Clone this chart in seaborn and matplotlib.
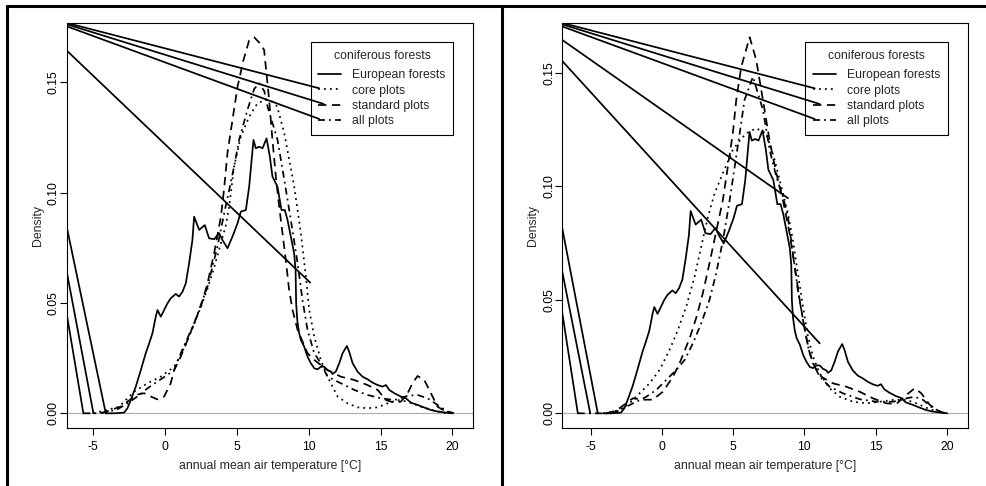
import matplotlib
matplotlib.use("Agg")
import matplotlib.pyplot as plt
from matplotlib.lines import Line2D
import seaborn as sns

# ---------------------------------------------------------------------------
# Density of annual mean air temperature (°C)
# ---------------------------------------------------------------------------
series_labels = ["European forests", "core plots", "standard plots", "all plots"]
legend_title = "coniferous forests"
x_label = "annual mean air temperature [°C]"
y_label = "Density"
x_ticks = [-5, 0, 5, 10, 15, 20]
y_ticks = [0.00, 0.05, 0.10, 0.15]
y_tick_labels = ["0.00", "0.05", "0.10", "0.15"]

# European forests (same reference curve in both panels)
europe_temp = [-4.13, -3.55, -2.86, -2.62, -2.39, -2.04, -1.69, -1.35, -1.11, -0.88,
               -0.65, -0.53, -0.30, -0.07, 0.16, 0.39, 0.74, 0.97, 1.21, 1.44,
               1.67, 1.90, 2.02, 2.37, 2.76, 3.06, 3.41, 3.76, 3.99, 4.34,
               4.69, 5.04, 5.27, 5.62, 5.85, 6.15, 6.31, 6.55, 6.78, 7.06,
               7.29, 7.47, 7.82, 8.10, 8.33, 8.52, 8.75, 8.98, 9.08, 9.12,
               9.20, 9.33, 9.45, 9.68, 9.91, 10.14, 10.38, 10.61, 10.84, 11.07,
               11.30, 11.54, 11.65, 11.88, 12.12, 12.35, 12.65, 12.81, 13.05, 13.39,
               13.74, 14.09, 14.44, 14.79, 15.13, 15.37, 15.60, 15.95, 16.41, 16.76,
               17.11, 17.57, 18.04, 18.50, 18.96, 19.54, 20.01]
europe_density = [0.0, 0.0, 0.0003, 0.0023, 0.0060, 0.0121, 0.0196, 0.0272, 0.0317, 0.0363,
                  0.0438, 0.0468, 0.0438, 0.0468, 0.0498, 0.0521, 0.0541, 0.0529, 0.0551, 0.0589,
                  0.0680, 0.0785, 0.0891, 0.0831, 0.0853, 0.0793, 0.0789, 0.0816, 0.0785, 0.0748,
                  0.0801, 0.0861, 0.0914, 0.0921, 0.1027, 0.1239, 0.1201, 0.1208, 0.1201, 0.1246,
                  0.1163, 0.1073, 0.1027, 0.0921, 0.0921, 0.0876, 0.0801, 0.0725, 0.0650, 0.0498,
                  0.0420, 0.0363, 0.0332, 0.0302, 0.0257, 0.0227, 0.0204, 0.0199, 0.0211, 0.0211,
                  0.0196, 0.0189, 0.0178, 0.0189, 0.0227, 0.0272, 0.0305, 0.0279, 0.0227, 0.0189,
                  0.0166, 0.0154, 0.0139, 0.0128, 0.0121, 0.0128, 0.0106, 0.0091, 0.0076, 0.0068,
                  0.0048, 0.0038, 0.0026, 0.0015, 0.0008, 0.0003, 0.0]

# Left panel
left_core_temp = [-4.99, -4.25, -3.20, -2.16, -1.23, -0.30, 0.63, 1.09, 1.56, 2.02,
                  2.48, 2.95, 3.41, 3.88, 4.22, 4.46, 4.80, 5.27, 5.85, 6.43,
                  7.00, 7.40, 7.80, 8.29, 8.98, 9.45, 9.80, 10.03, 10.38, 10.84,
                  11.30, 12.00, 12.70, 13.39, 14.09, 14.79, 15.48, 16.18, 16.88, 17.80,
                  18.73, 19.66]
left_core_density = [0.0, 0.0012, 0.0030, 0.0098, 0.0136, 0.0166, 0.0211, 0.0265, 0.0330, 0.0405,
                     0.0480, 0.0565, 0.0660, 0.0770, 0.0850, 0.0937, 0.1118, 0.1254, 0.1344, 0.1405,
                     0.1420, 0.1415, 0.1390, 0.1270, 0.1030, 0.0815, 0.0619, 0.0468, 0.0347, 0.0242,
                     0.0166, 0.0076, 0.0045, 0.0027, 0.0023, 0.0027, 0.0045, 0.0060, 0.0053, 0.0030,
                     0.0012, 0.0]

left_standard_temp = [-4.48, -3.78, -3.09, -2.62, -1.93, -1.46, -1.00, -0.53, -0.07, 0.39,
                      0.63, 1.09, 1.56, 2.02, 2.48, 2.95, 3.41, 3.88, 4.11, 4.34,
                      4.69, 5.04, 5.45, 5.85, 6.20, 6.55, 6.89, 7.24, 7.47, 7.71,
                      7.94, 8.17, 8.40, 8.63, 8.87, 9.22, 9.91, 10.38, 10.84, 11.30,
                      12.23, 13.16, 14.09, 14.79, 15.37, 15.95, 16.41, 16.88, 17.22, 17.57,
                      18.04, 18.50, 18.96, 19.66, 20.00]
left_standard_density = [0.0, 0.0015, 0.0030, 0.0053, 0.0085, 0.0091, 0.0076, 0.0063, 0.0076, 0.0136,
                         0.0196, 0.0257, 0.0332, 0.0408, 0.0483, 0.0589, 0.0725, 0.0890, 0.1020, 0.1180,
                         0.1330, 0.1480, 0.1600, 0.1690, 0.1704, 0.1680, 0.1647, 0.1420, 0.1240, 0.1070,
                         0.0937, 0.0816, 0.0695, 0.0559, 0.0468, 0.0378, 0.0272, 0.0242, 0.0219, 0.0196,
                         0.0166, 0.0151, 0.0128, 0.0106, 0.0060, 0.0048, 0.0053, 0.0091, 0.0136, 0.0169,
                         0.0151, 0.0091, 0.0030, 0.0003, 0.0]

left_all_temp = [-5.69, -4.71, -4.02, -3.32, -2.62, -1.93, -1.23, -0.53, 0.16, 0.63,
                 1.09, 2.02, 2.95, 3.64, 4.11, 4.46, 4.80, 5.15, 5.73, 6.20,
                 6.55, 6.90, 7.13, 7.82, 8.29, 8.75, 9.22, 9.56, 9.91, 10.38,
                 10.84, 11.30, 12.23, 13.16, 14.09, 15.02, 15.95, 16.88, 17.57, 18.27,
                 18.96, 19.66, 20.20]
left_all_density = [0.0, 0.0, 0.0006, 0.0018, 0.0045, 0.0076, 0.0113, 0.0144, 0.0174, 0.0196,
                    0.0272, 0.0408, 0.0574, 0.0755, 0.0906, 0.1012, 0.1118, 0.1239, 0.1375, 0.1470,
                    0.1495, 0.1460, 0.1390, 0.1240, 0.1060, 0.0876, 0.0680, 0.0514, 0.0378, 0.0272,
                    0.0227, 0.0166, 0.0136, 0.0106, 0.0083, 0.0068, 0.0060, 0.0079, 0.0083, 0.0068,
                    0.0038, 0.0008, 0.0]

# Right panel
right_core_temp = [-4.10, -3.67, -2.96, -2.26, -1.56, -0.86, -0.16, 0.54, 1.13, 1.71,
                   2.30, 2.76, 3.24, 3.70, 4.28, 4.98, 5.46, 5.92, 6.62, 7.32,
                   7.91, 8.38, 8.84, 9.19, 9.54, 9.90, 10.25, 10.60, 11.07, 11.77,
                   12.47, 13.41, 14.34, 15.28, 16.22, 17.15, 17.85, 18.79, 19.72]
right_core_density = [0.0, 0.0003, 0.0015, 0.0044, 0.0088, 0.0132, 0.0191, 0.0279, 0.0367, 0.0470,
                      0.0602, 0.0734, 0.0866, 0.0969, 0.1057, 0.1160, 0.1200, 0.1233, 0.1255, 0.1233,
                      0.1116, 0.0998, 0.0881, 0.0763, 0.0616, 0.0470, 0.0338, 0.0250, 0.0176, 0.0110,
                      0.0073, 0.0051, 0.0044, 0.0051, 0.0059, 0.0059, 0.0044, 0.0018, 0.0003]

right_standard_temp = [-3.90, -3.20, -2.50, -2.03, -1.33, -0.63, 0.07, 0.78, 1.24, 1.95,
                       2.41, 2.88, 3.34, 3.81, 4.28, 4.63, 4.98, 5.22, 5.57, 6.16,
                       6.62, 7.09, 7.56, 8.03, 8.49, 8.96, 9.32, 9.67, 10.02, 10.37,
                       10.72, 11.19, 12.00, 12.94, 13.88, 14.80, 15.75, 16.44, 17.15, 17.73,
                       18.20, 18.79, 19.49, 19.96]
right_standard_density = [0.0, 0.0012, 0.0044, 0.0066, 0.0060, 0.0060, 0.0095, 0.0161, 0.0220, 0.0330,
                          0.0420, 0.0530, 0.0660, 0.0800, 0.0939, 0.1086, 0.1233, 0.1380, 0.1526, 0.1656,
                          0.1556, 0.1380, 0.1200, 0.1057, 0.0939, 0.0793, 0.0646, 0.0499, 0.0367, 0.0264,
                          0.0205, 0.0161, 0.0132, 0.0117, 0.0095, 0.0066, 0.0044, 0.0041, 0.0081, 0.0110,
                          0.0088, 0.0037, 0.0007, 0.0]

right_all_temp = [-5.89, -3.67, -3.20, -2.50, -1.79, -1.09, -0.39, 0.31, 1.01, 1.60,
                  2.18, 2.76, 3.34, 3.81, 4.29, 4.76, 5.11, 5.46, 5.80, 6.39,
                  7.09, 7.56, 8.03, 8.49, 8.84, 9.19, 9.54, 9.90, 10.25, 10.60,
                  11.07, 11.77, 12.70, 13.88, 15.05, 16.22, 17.15, 17.73, 18.32, 19.02,
                  19.72]
right_all_density = [0.0, 0.0, 0.0007, 0.0029, 0.0051, 0.0073, 0.0103, 0.0147, 0.0191, 0.0235,
                     0.0308, 0.0396, 0.0499, 0.0616, 0.0763, 0.0939, 0.1086, 0.1233, 0.1380, 0.1482,
                     0.1336, 0.1160, 0.1042, 0.0954, 0.0866, 0.0705, 0.0543, 0.0411, 0.0294, 0.0220,
                     0.0161, 0.0117, 0.0088, 0.0062, 0.0051, 0.0051, 0.0066, 0.0073, 0.0059, 0.0022,
                     0.0003]

# Straight connecting strokes drawn on each panel: (x0, y0, x1, y1)
left_strokes = [(-6.90, 0.1770, 10.72, 0.1473),
                (-6.90, 0.1764, 11.03, 0.1402),
                (-6.90, 0.1755, 10.72, 0.1334),
                (-6.90, 0.1647, 10.10, 0.0592),
                (-6.90, 0.0861, -4.13, 0.0),
                (-6.90, 0.0660, -4.99, 0.0),
                (-6.90, 0.0470, -5.69, 0.0)]
right_strokes = [(-7.05, 0.1720, 10.72, 0.1431),
                 (-7.05, 0.1714, 11.07, 0.1362),
                 (-7.05, 0.1705, 10.72, 0.1296),
                 (-7.05, 0.1647, 8.85, 0.0947),
                 (-7.05, 0.1556, 11.07, 0.0308),
                 (-7.05, 0.0837, -4.49, 0.0),
                 (-7.05, 0.0646, -5.02, 0.0),
                 (-7.05, 0.0470, -5.89, 0.0)]

# ---------------------------------------------------------------------------
sns.set_theme(style="white")
plt.rcParams["font.family"] = ["Liberation Sans", "DejaVu Sans"]
plt.rcParams["lines.scale_dashes"] = False

LW = 1.25
FS = 8.8
styles = {
    "European forests": "-",
    "core plots": (0, (1.3, 3.0)),
    "standard plots": (0, (6.0, 4.0)),
    "all plots": (0, (5.0, 3.0, 1.3, 3.0)),
}

W, H = 987, 486
fig = plt.figure(figsize=(W / 100, H / 100), dpi=100)
fig.patch.set_facecolor("white")


def px_axes(left, top, right, bottom):
    return fig.add_axes([left / W, 1 - bottom / H, (right - left) / W, (bottom - top) / H])


ax_left = px_axes(66.7, 22.7, 473.3, 428.3)
ax_right = px_axes(562.0, 22.7, 968.0, 428.3)


def draw_panel(ax, curves, strokes, xlim, ylim):
    ax.axhline(0, color="#b0b0b0", lw=0.9, zorder=1)
    for label, (temp, dens) in zip(series_labels, curves):
        sns.lineplot(x=temp, y=dens, ax=ax, color="black", lw=LW,
                     linestyle=styles[label], estimator=None, sort=False, zorder=3)
    for x0, y0, x1, y1 in strokes:
        sns.lineplot(x=[x0, x1], y=[y0, y1], ax=ax, color="black", lw=LW,
                     estimator=None, sort=False, zorder=3)
    ax.set_xlim(*xlim)
    ax.set_ylim(*ylim)
    ax.set_xticks(x_ticks)
    ax.set_xticklabels([str(t) for t in x_ticks])
    ax.set_yticks(y_ticks)
    ax.set_yticklabels(y_tick_labels, rotation=90, va="center")
    ax.tick_params(direction="out", length=5, width=0.8, labelsize=FS,
                   colors="black", left=True, bottom=True)
    ax.tick_params(axis="x", pad=4)
    ax.tick_params(axis="y", pad=0)
    for sp in ax.spines.values():
        sp.set_color("black")
        sp.set_linewidth(0.8)
    ax.set_xlabel(x_label, fontsize=FS, labelpad=5)
    ax.set_ylabel(y_label, fontsize=FS, labelpad=3)
    handles = [Line2D([], [], color="black", lw=LW, linestyle=styles[s]) for s in series_labels]
    leg = ax.legend(handles, series_labels, title=legend_title, loc="upper right",
                    bbox_to_anchor=(0.951, 0.952), frameon=True, fancybox=False,
                    framealpha=1, edgecolor="black", fontsize=FS, title_fontsize=FS,
                    handlelength=1.9, handletextpad=0.9, labelspacing=0.27,
                    borderpad=0.62, borderaxespad=0)
    leg._legend_box.sep = 5.5
    leg.get_frame().set_linewidth(0.8)
    leg.get_frame().set_facecolor("white")
    leg.set_zorder(2)


draw_panel(ax_left,
           [(europe_temp, europe_density), (left_core_temp, left_core_density),
            (left_standard_temp, left_standard_density), (left_all_temp, left_all_density)],
           left_strokes, (-6.85, 21.45), (-0.0068, 0.177))
draw_panel(ax_right,
           [(europe_temp, europe_density), (right_core_temp, right_core_density),
            (right_standard_temp, right_standard_density), (right_all_temp, right_all_density)],
           right_strokes, (-7.0, 21.47), (-0.0066, 0.172))

# Outer panel frame
for xs, ys in [([7, 987], [6.5, 6.5]), ([7.5, 7.5], [6, 486]), ([502.5, 502.5], [6, 486])]:
    fig.add_artist(Line2D([x / W for x in xs], [1 - y / H for y in ys],
                          transform=fig.transFigure, color="black", lw=2.2))

fig.savefig("out.png", dpi=100)
